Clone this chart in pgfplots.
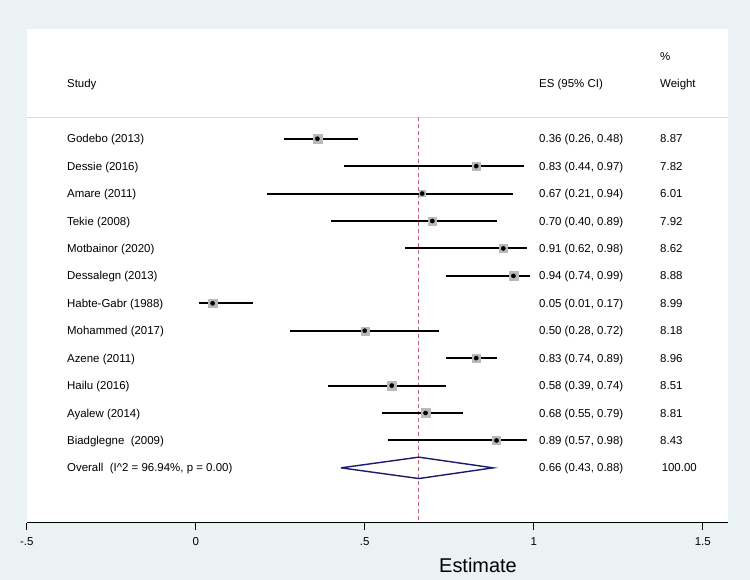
\documentclass[border=0pt]{standalone}
\usepackage{pgfplots}
\pgfplotsset{compat=1.18}
\usepackage{pgfplotstable}
\usepackage{fontspec}
\setmainfont{Liberation Sans}
\definecolor{bgc}{RGB}{234,242,243}
\definecolor{dashred}{RGB}{200,100,120}
\definecolor{sqgray}{RGB}{185,185,185}
\definecolor{dnavy}{RGB}{26,26,110}
\definecolor{hline}{RGB}{218,218,218}
\pgfplotstableread{
row es lo hi w
1 0.36 0.26 0.48 8.87
2 0.83 0.44 0.97 7.82
3 0.67 0.21 0.94 6.01
4 0.70 0.40 0.89 7.92
5 0.91 0.62 0.98 8.62
6 0.94 0.74 0.99 8.88
7 0.05 0.01 0.17 8.99
8 0.50 0.28 0.72 8.18
9 0.83 0.74 0.89 8.96
10 0.58 0.39 0.74 8.51
11 0.68 0.55 0.79 8.81
12 0.89 0.57 0.98 8.43
}\data
\tikzset{lbl/.style={font=\fontsize{11.5}{13}\selectfont, inner sep=0pt, anchor=base west, yshift=-4.1bp}}
\begin{document}
\begin{tikzpicture}
\fill[bgc] (0,0) rectangle (750bp,580bp);
\begin{axis}[
  at={(26.7bp,57.3bp)}, anchor=south west,
  scale only axis, width=701.6bp, height=493.7bp,
  xmin=-0.5, xmax=1.5757, ymin=-3, ymax=15, y dir=reverse,
  axis background/.style={fill=white},
  axis x line=bottom, axis y line=none,
  x axis line style={-, line width=1bp},
  xtick={-0.5,0,0.5,1,1.5}, xticklabels={-.5,0,.5,1,1.5},
  tick align=outside, major tick length=7.3bp,
  xtick style={black, line width=1bp},
  /pgf/number format/assume math mode=true,
  xticklabel style={font=\fontsize{11.5}{13}\selectfont, anchor=center, yshift=-12bp},
  xlabel={Estimate},
  xlabel style={font=\fontsize{20}{22}\selectfont, at={(axis description cs:0.6432,0)}, anchor=center, yshift=-42.3bp},
  clip=false,
]
% header separator
\addplot[hline, line width=1bp] coordinates {(-0.5,0.22) (1.5757,0.22)};
% null / overall line
\addplot[dashred, line width=1.1bp, dash pattern=on 4bp off 3bp] coordinates {(0.66,0.22) (0.66,15)};
% weight squares
\addplot[scatter, only marks, mark=square*, point meta=\thisrow{w},
  visualization depends on={0.49*\thisrow{w} \as \msz},
  scatter/use mapped color={draw=sqgray, fill=sqgray},
  scatter/@pre marker code/.append style={/tikz/mark size=\msz pt}]
  table[x=es, y=row] {\data};
% CIs and point estimates
\addplot[black, only marks, mark=*, mark size=2.1bp, mark options={fill=black, draw=black},
  error bars/.cd, x dir=both, x explicit, error mark=none,
  error bar style={line width=2bp, black}]
  table[x=es, y=row, x error minus expr={\thisrow{es}-\thisrow{lo}}, x error plus expr={\thisrow{hi}-\thisrow{es}}] {\data};
% overall diamond
\addplot[dnavy, line width=1.4bp] coordinates {(0.43,13) (0.66,12.61) (0.88,13) (0.66,13.39) (0.43,13)};
% headers
\node[lbl] at (axis cs:-0.381,-1) {Study};
\node[lbl] at (axis cs:1.0157,-1) {ES (95\% CI)};
\node[lbl] at (axis cs:1.3737,-2) {\%};
\node[lbl] at (axis cs:1.3737,-1) {Weight};
% study labels
\node[lbl] at (axis cs:-0.381,1) {Godebo (2013)};
\node[lbl] at (axis cs:-0.381,2) {Dessie (2016)};
\node[lbl] at (axis cs:-0.381,3) {Amare (2011)};
\node[lbl] at (axis cs:-0.381,4) {Tekie (2008)};
\node[lbl] at (axis cs:-0.381,5) {Motbainor (2020)};
\node[lbl] at (axis cs:-0.381,6) {Dessalegn (2013)};
\node[lbl] at (axis cs:-0.381,7) {Habte-Gabr (1988)};
\node[lbl] at (axis cs:-0.381,8) {Mohammed (2017)};
\node[lbl] at (axis cs:-0.381,9) {Azene (2011)};
\node[lbl] at (axis cs:-0.381,10) {Hailu (2016)};
\node[lbl] at (axis cs:-0.381,11) {Ayalew (2014)};
\node[lbl] at (axis cs:-0.381,12) {Biadglegne~ (2009)};
\node[lbl] at (axis cs:-0.381,13) {Overall~ (I\textasciicircum 2 = 96.94\%, p = 0.00)};
% ES column
\node[lbl] at (axis cs:1.0157,1) {0.36 (0.26, 0.48)};
\node[lbl] at (axis cs:1.0157,2) {0.83 (0.44, 0.97)};
\node[lbl] at (axis cs:1.0157,3) {0.67 (0.21, 0.94)};
\node[lbl] at (axis cs:1.0157,4) {0.70 (0.40, 0.89)};
\node[lbl] at (axis cs:1.0157,5) {0.91 (0.62, 0.98)};
\node[lbl] at (axis cs:1.0157,6) {0.94 (0.74, 0.99)};
\node[lbl] at (axis cs:1.0157,7) {0.05 (0.01, 0.17)};
\node[lbl] at (axis cs:1.0157,8) {0.50 (0.28, 0.72)};
\node[lbl] at (axis cs:1.0157,9) {0.83 (0.74, 0.89)};
\node[lbl] at (axis cs:1.0157,10) {0.58 (0.39, 0.74)};
\node[lbl] at (axis cs:1.0157,11) {0.68 (0.55, 0.79)};
\node[lbl] at (axis cs:1.0157,12) {0.89 (0.57, 0.98)};
\node[lbl] at (axis cs:1.0157,13) {0.66 (0.43, 0.88)};
% weight column
\node[lbl] at (axis cs:1.3737,1) {8.87};
\node[lbl] at (axis cs:1.3737,2) {7.82};
\node[lbl] at (axis cs:1.3737,3) {6.01};
\node[lbl] at (axis cs:1.3737,4) {7.92};
\node[lbl] at (axis cs:1.3737,5) {8.62};
\node[lbl] at (axis cs:1.3737,6) {8.88};
\node[lbl] at (axis cs:1.3737,7) {8.99};
\node[lbl] at (axis cs:1.3737,8) {8.18};
\node[lbl] at (axis cs:1.3737,9) {8.96};
\node[lbl] at (axis cs:1.3737,10) {8.51};
\node[lbl] at (axis cs:1.3737,11) {8.81};
\node[lbl] at (axis cs:1.3737,12) {8.43};
\node[lbl] at (axis cs:1.3782,13) {100.00};
\end{axis}
\end{tikzpicture}
\end{document}
